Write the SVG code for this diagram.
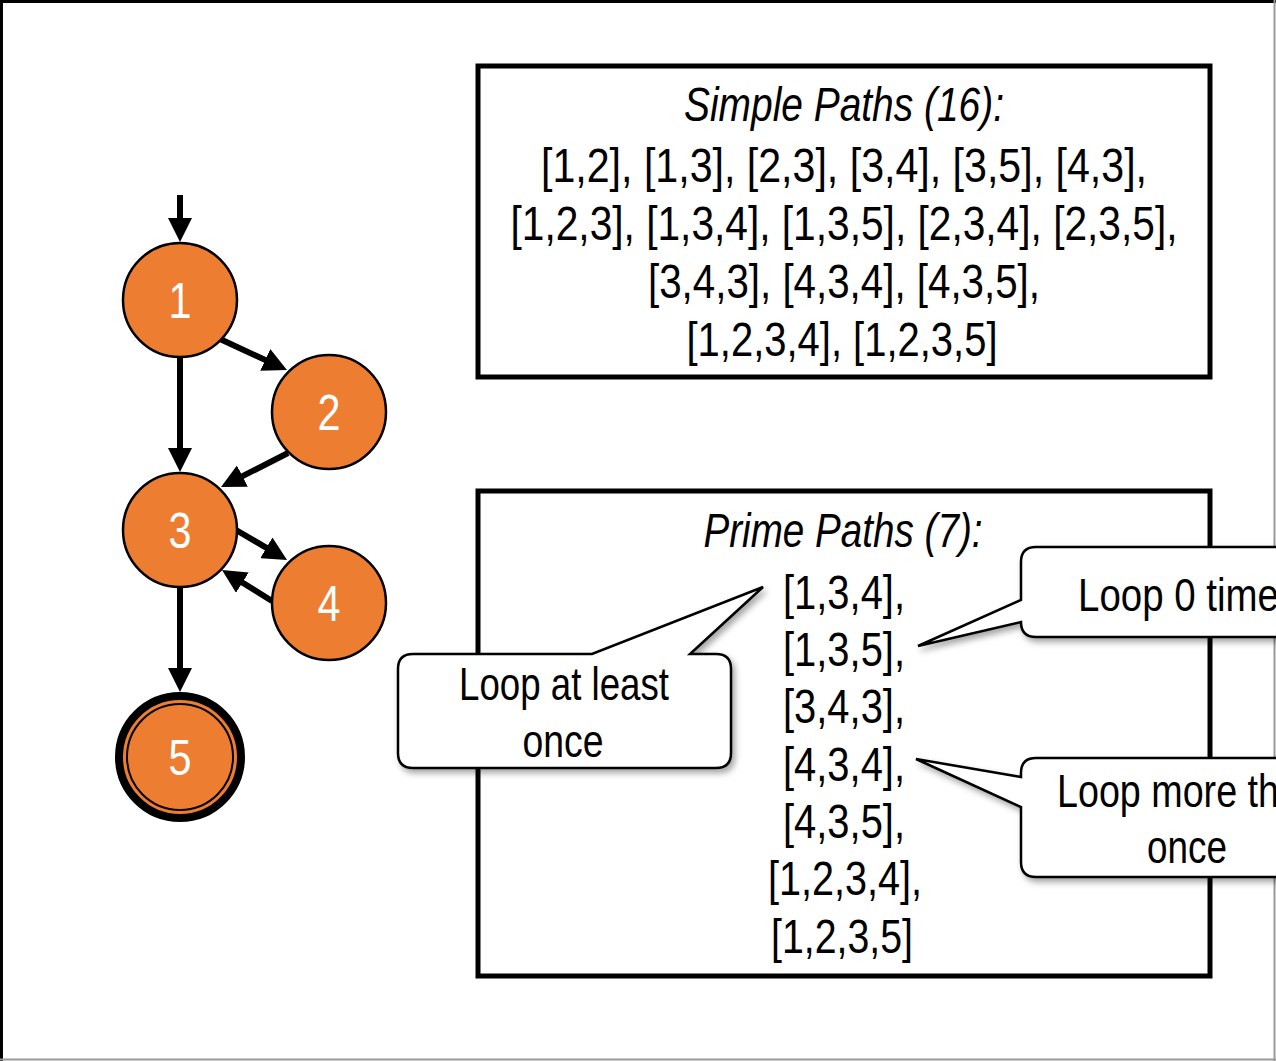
<svg xmlns="http://www.w3.org/2000/svg" width="1276" height="1061" viewBox="0 0 1276 1061">
<style>
.node{fill:#ED7D31;stroke:#000;stroke-width:2.5}
.num{font-family:"Liberation Sans",Arial,sans-serif;font-size:50px;fill:#fff;text-anchor:middle}
.edge{stroke:#000;stroke-width:6;fill:none;marker-end:url(#ah)}
.box{fill:#fff;stroke:#000;stroke-width:5}
.txt{font-family:"Liberation Sans",Arial,sans-serif;font-size:49px;fill:#000;text-anchor:middle}
.ttl{font-style:italic}
.call{fill:#fff;stroke:#000;stroke-width:2.5;stroke-linejoin:miter;filter:url(#sh)}
.ctxt{font-family:"Liberation Sans",Arial,sans-serif;font-size:46px;fill:#000}
</style>
<defs>
<marker id="ah" markerUnits="userSpaceOnUse" markerWidth="24" markerHeight="24" refX="12" refY="12" orient="auto" viewBox="0 0 24 24">
<path d="M0,0 L24,12 L0,24 Z" fill="#000"/>
</marker>
<filter id="sh" x="-10%" y="-10%" width="130%" height="140%">
<feDropShadow dx="3" dy="4" stdDeviation="3" flood-color="#000" flood-opacity="0.35"/>
</filter>
</defs>
<rect x="0" y="0" width="1276" height="1061" fill="#fff"/>
<g id="frame">
<line x1="0" y1="1.5" x2="1276" y2="1.5" stroke="#000" stroke-width="3"/>
<line x1="1.5" y1="0" x2="1.5" y2="1061" stroke="#000" stroke-width="3"/>
<line x1="1274.5" y1="0" x2="1274.5" y2="1061" stroke="#999" stroke-width="2"/>
<line x1="0" y1="1059.5" x2="1276" y2="1059.5" stroke="#999" stroke-width="2"/>
</g>
<g id="connectors">
<line class="edge" x1="180" y1="195" x2="180" y2="230"/>
<line class="edge" x1="180" y1="357" x2="180" y2="460"/>
<line class="edge" x1="220" y1="339" x2="276.1" y2="365"/>
<line class="edge" x1="288" y1="453" x2="231.7" y2="481.6"/>
<line class="edge" x1="236" y1="530" x2="276.7" y2="553.9"/>
<line class="edge" x1="272" y1="601" x2="232.2" y2="576.3"/>
<line class="edge" x1="180" y1="588" x2="180" y2="680"/>
</g>
<g id="node1"><circle class="node" cx="180" cy="300" r="57"/><text class="num" x="180" y="318" textLength="23" lengthAdjust="spacingAndGlyphs">1</text></g>
<g id="node2"><circle class="node" cx="329" cy="412" r="57"/><text class="num" x="329" y="430" textLength="23" lengthAdjust="spacingAndGlyphs">2</text></g>
<g id="node3"><circle class="node" cx="180" cy="530" r="57"/><text class="num" x="180" y="548" textLength="23" lengthAdjust="spacingAndGlyphs">3</text></g>
<g id="node4"><circle class="node" cx="329" cy="603" r="57"/><text class="num" x="329" y="621" textLength="23" lengthAdjust="spacingAndGlyphs">4</text></g>
<g id="node5"><circle cx="180" cy="757" r="61" fill="#ED7D31" stroke="#000" stroke-width="8"/><circle cx="180" cy="757" r="53" fill="none" stroke="#000" stroke-width="2"/><text class="num" x="180" y="775" textLength="23" lengthAdjust="spacingAndGlyphs">5</text></g>
<g id="simple-paths">
<rect class="box" x="478" y="66" width="732" height="311"/>
<text class="txt ttl" x="844" y="121" textLength="320" lengthAdjust="spacingAndGlyphs">Simple Paths (16):</text>
<text class="txt" x="844" y="182" textLength="606" lengthAdjust="spacingAndGlyphs">[1,2], [1,3], [2,3], [3,4], [3,5], [4,3],</text>
<text class="txt" x="844" y="240" textLength="667" lengthAdjust="spacingAndGlyphs">[1,2,3], [1,3,4], [1,3,5], [2,3,4], [2,3,5],</text>
<text class="txt" x="844" y="298" textLength="392" lengthAdjust="spacingAndGlyphs">[3,4,3], [4,3,4], [4,3,5],</text>
<text class="txt" x="842" y="356" textLength="311" lengthAdjust="spacingAndGlyphs">[1,2,3,4], [1,2,3,5]</text>
</g>
<g id="prime-paths">
<rect class="box" x="478" y="491" width="732" height="485"/>
<text class="txt ttl" x="843" y="547" textLength="279" lengthAdjust="spacingAndGlyphs">Prime Paths (7):</text>
<text class="txt" x="844" y="609" textLength="122" lengthAdjust="spacingAndGlyphs">[1,3,4],</text>
<text class="txt" x="844" y="666" textLength="122" lengthAdjust="spacingAndGlyphs">[1,3,5],</text>
<text class="txt" x="844" y="723" textLength="122" lengthAdjust="spacingAndGlyphs">[3,4,3],</text>
<text class="txt" x="844" y="781" textLength="122" lengthAdjust="spacingAndGlyphs">[4,3,4],</text>
<text class="txt" x="844" y="838" textLength="122" lengthAdjust="spacingAndGlyphs">[4,3,5],</text>
<text class="txt" x="845" y="895" textLength="154" lengthAdjust="spacingAndGlyphs">[1,2,3,4],</text>
<text class="txt" x="842" y="953" textLength="142" lengthAdjust="spacingAndGlyphs">[1,2,3,5]</text>
</g>
<g id="callout-least">
<path class="call" d="M413,654 L592,654 L763,587 L690,654 L716,654 Q731,654 731,669 L731,753 Q731,768 716,768 L413,768 Q398,768 398,753 L398,669 Q398,654 413,654 Z"/>
<text class="ctxt" x="564" y="700" text-anchor="middle" textLength="210" lengthAdjust="spacingAndGlyphs">Loop at least</text>
<text class="ctxt" x="563" y="757" text-anchor="middle" textLength="81" lengthAdjust="spacingAndGlyphs">once</text>
</g>
<g id="callout-zero">
<path class="call" d="M1036,547 L1380,547 L1380,637 L1036,637 Q1021,637 1021,622 L918,646 L1021,600 L1021,562 Q1021,547 1036,547 Z"/>
<text class="ctxt" x="1078" y="611" textLength="201" lengthAdjust="spacingAndGlyphs">Loop 0 time</text>
</g>
<g id="callout-more">
<path class="call" d="M1036,758 L1380,758 L1380,877 L1036,877 Q1021,877 1021,862 L1021,807 L916,759 L1021,777 L1021,773 Q1021,758 1036,758 Z"/>
<text class="ctxt" x="1057" y="807" textLength="222" lengthAdjust="spacingAndGlyphs">Loop more th</text>
<text class="ctxt" x="1187" y="863" text-anchor="middle" textLength="80" lengthAdjust="spacingAndGlyphs">once</text>
</g>
</svg>
